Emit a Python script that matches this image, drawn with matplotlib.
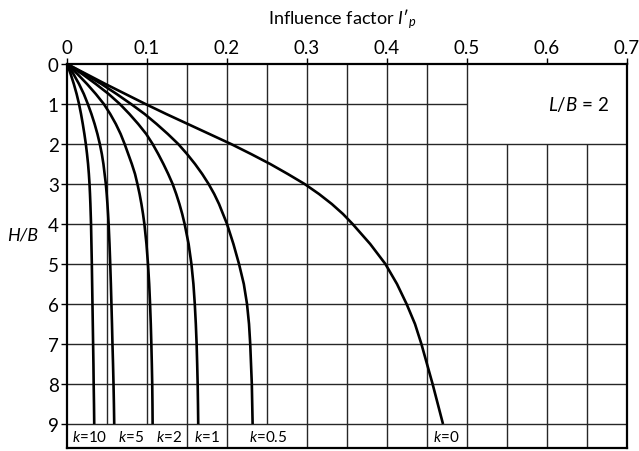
import matplotlib
matplotlib.use("Agg")
import matplotlib.pyplot as plt

plt.rcParams['font.family'] = ['Lato', 'DejaVu Sans']
plt.rcParams['mathtext.fontset'] = 'custom'
plt.rcParams['mathtext.rm'] = 'Lato'
plt.rcParams['mathtext.it'] = 'Lato:italic'

# Profondeur relative H/B et facteur d'influence pour chaque valeur de k
hb = [0, 0.25, 0.5, 0.75, 1, 1.25, 1.5, 1.75, 2, 2.25, 2.5, 2.75, 3, 3.25, 3.5, 3.75,
      4, 4.5, 5, 5.5, 6, 6.5, 7, 7.5, 8, 8.5, 9]
ip_k10 = [0, 0.0045, 0.0085, 0.012, 0.015, 0.0175, 0.0197, 0.0217, 0.0235, 0.025, 0.0263,
          0.0273, 0.0281, 0.0287, 0.0292, 0.0296, 0.030, 0.0305, 0.031, 0.0314, 0.0318,
          0.0322, 0.0326, 0.033, 0.0333, 0.0337, 0.034]
ip_k5 = [0, 0.008, 0.015, 0.021, 0.026, 0.0305, 0.0345, 0.038, 0.041, 0.0435, 0.0455,
         0.047, 0.0485, 0.0496, 0.0505, 0.0513, 0.052, 0.0531, 0.054, 0.0548, 0.0555,
         0.0562, 0.0568, 0.0575, 0.0581, 0.0586, 0.059]
ip_k2 = [0, 0.013, 0.025, 0.036, 0.046, 0.054, 0.061, 0.067, 0.072, 0.0765, 0.081,
         0.085, 0.088, 0.0907, 0.093, 0.095, 0.0967, 0.0993, 0.1012, 0.1027, 0.1038,
         0.1047, 0.1054, 0.106, 0.1065, 0.1068, 0.107]
ip_k1 = [0, 0.019, 0.036, 0.052, 0.066, 0.078, 0.089, 0.099, 0.107, 0.114, 0.1205,
         0.1265, 0.132, 0.1365, 0.1405, 0.144, 0.147, 0.152, 0.1555, 0.158, 0.1597,
         0.161, 0.162, 0.1627, 0.1633, 0.1637, 0.164]
ip_k05 = [0, 0.022, 0.043, 0.062, 0.080, 0.097, 0.112, 0.126, 0.139, 0.150, 0.160,
          0.169, 0.177, 0.184, 0.190, 0.195, 0.200, 0.208, 0.215, 0.221, 0.225,
          0.2275, 0.229, 0.230, 0.231, 0.2315, 0.232]
ip_k0 = [0, 0.024, 0.048, 0.073, 0.098, 0.124, 0.151, 0.178, 0.205, 0.230, 0.254,
         0.276, 0.297, 0.315, 0.331, 0.345, 0.357, 0.379, 0.398, 0.4125, 0.4245,
         0.435, 0.443, 0.450, 0.457, 0.4635, 0.470]

courbes = [ip_k10, ip_k5, ip_k2, ip_k1, ip_k05, ip_k0]
etiquettes = ["10", "5", "2", "1", "0.5", "0"]
pos_etiquettes = [0.028, 0.080, 0.127, 0.175, 0.252, 0.474]

x_ticks = [0, 0.1, 0.2, 0.3, 0.4, 0.5, 0.6, 0.7]
x_labels = ["0", "0.1", "0.2", "0.3", "0.4", "0.5", "0.6", "0.7"]
y_ticks = [0, 1, 2, 3, 4, 5, 6, 7, 8, 9]

fig = plt.figure(figsize=(6.39, 4.52), dpi=100)
ax = fig.add_axes([0.1049, 0.0066, 0.8763, 0.8496])

ax.set_xlim(0, 0.7)
ax.set_ylim(9.6, 0)

# Quadrillage : lignes verticales tous les 0.05
gris = '#262626'
for i in range(1, 14):
    x = i * 0.05
    if i in (1, 2, 5):
        ax.vlines(x, 0, 9, color=gris, lw=1.0, zorder=1)
    elif i >= 11:
        ax.vlines(x, 2, 9.6, color=gris, lw=1.0, zorder=1)
    else:
        ax.vlines(x, 0, 9.6, color=gris, lw=1.0, zorder=1)

# Lignes horizontales
for y in range(1, 10):
    if y == 1:
        ax.hlines(y, 0, 0.5, color=gris, lw=1.0, zorder=1)
    else:
        ax.hlines(y, 0, 0.7, color=gris, lw=1.0, zorder=1)

# Courbes
for c in courbes:
    ax.plot(c, hb, color='black', lw=1.9, solid_joinstyle='round',
            solid_capstyle='butt', zorder=3)

for lab, xp in zip(etiquettes, pos_etiquettes):
    ax.text(xp, 9.3, "$k$=" + lab, ha='center', va='center', fontsize=11)

ax.text(0.64, 1.0, "$L/B$ = 2", ha='center', va='center', fontsize=13.5)

# Axes
ax.xaxis.tick_top()
ax.set_xticks(x_ticks)
ax.set_xticklabels(x_labels)
ax.set_yticks(y_ticks)
ax.tick_params(axis='both', direction='out', length=4, width=1.0,
               labelsize=13.5, pad=2)
for s in ax.spines.values():
    s.set_linewidth(1.6)

ax.set_ylabel("H/B", rotation=0, style='italic', fontsize=13)
ax.yaxis.set_label_coords(-0.08, 0.536)

fig.text(0.535, 0.957, "Influence factor $I′_{p}$", ha='center', va='center',
         fontsize=13)

fig.savefig("out.png", dpi=100)
